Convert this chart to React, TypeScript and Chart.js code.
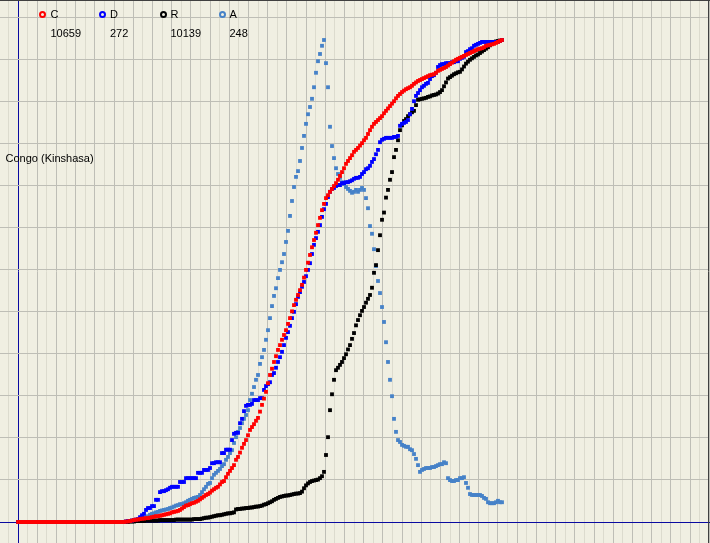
import React, { useEffect, useRef } from "react";
import { Chart, registerables } from "chart.js";

Chart.register(...registerables);

// ---- data (percent of each series' own peak, one value per day from day 0) ----
const COUNTRY = "Congo (Kinshasa)";
const SERIES_NAMES = ["C", "D", "R", "A"];
const LATEST = ["10659", "272", "10139", "248"];
const SERIES_COLORS = ["#ff0000", "#0000ff", "#000000", "#4682c8"];

const C_PCT = [
  0, 0, 0, 0, 0, 0, 0, 0, 0, 0,
  0, 0, 0, 0, 0, 0, 0, 0, 0, 0,
  0, 0, 0, 0, 0, 0, 0, 0, 0, 0,
  0, 0, 0, 0, 0, 0, 0, 0, 0, 0,
  0, 0, 0, 0, 0, 0, 0, 0, 0, 0,
  0, 0, 0, 0, 0.1, 0.1, 0.2, 0.3, 0.4, 0.5,
  0.5, 0.6, 0.7, 0.7, 0.8, 0.8, 0.9, 1.0, 1.1, 1.2,
  1.2, 1.3, 1.4, 1.5, 1.6, 1.7, 1.8, 2.0, 2.1, 2.2,
  2.3, 2.5, 2.8, 3.1, 3.4, 3.5, 3.7, 3.9, 4.0, 4.2,
  4.4, 4.7, 5.0, 5.3, 5.6, 5.8, 6.1, 6.5, 6.8, 7.1,
  7.3, 7.8, 8.3, 8.5, 9.3, 10.0, 10.6, 11.2, 11.8, 12.9,
  13.5, 14.4, 15.4, 16.2, 17.0, 18.0, 19.1, 19.7, 20.3, 21.0,
  21.6, 22.9, 24.3, 25.6, 27.0, 28.8, 30.5, 31.8, 33.2, 34.4,
  35.7, 36.7, 37.8, 38.8, 39.8, 41.1, 42.3, 43.7, 45.0, 46.1,
  47.1, 48.1, 49.2, 50.7, 52.3, 53.8, 55.4, 57.0, 58.5, 60.0,
  61.6, 63.1, 64.7, 66.0, 67.2, 67.8, 68.5, 69.1, 69.7, 70.3,
  71.0, 71.8, 72.6, 73.4, 74.3, 74.9, 75.5, 76.1, 76.8, 77.2,
  77.6, 78.1, 78.6, 79.2, 79.7, 80.5, 81.3, 82.0, 82.6, 83.0,
  83.4, 83.8, 84.2, 84.8, 85.3, 85.8, 86.3, 86.8, 87.3, 87.9,
  88.4, 88.8, 89.2, 89.5, 89.8, 90.0, 90.2, 90.5, 90.9, 91.2,
  91.5, 91.7, 91.9, 92.1, 92.3, 92.5, 92.7, 92.8, 92.9, 93.2,
  93.6, 93.8, 94.0, 94.2, 94.4, 94.7, 95.0, 95.3, 95.6, 95.9,
  96.1, 96.3, 96.5, 96.7, 96.9, 97.1, 97.3, 97.5, 97.7, 97.9,
  98.1, 98.2, 98.3, 98.5, 98.8, 98.9, 99.0, 99.1, 99.2, 99.4,
  99.6, 99.8, 100,
];

const D_PCT = [
  0, 0, 0, 0, 0, 0, 0, 0, 0, 0,
  0, 0, 0, 0, 0, 0, 0, 0, 0, 0,
  0, 0, 0, 0, 0, 0, 0, 0, 0, 0,
  0, 0, 0, 0, 0, 0, 0, 0, 0, 0,
  0, 0, 0, 0, 0, 0, 0, 0, 0, 0,
  0, 0, 0, 0, 0.1, 0.2, 0.2, 0.3, 0.4, 0.5,
  0.6, 1.0, 1.4, 1.7, 2.5, 2.9, 2.9, 3.3, 3.3, 4.6,
  4.6, 6.2, 6.4, 6.4, 6.6, 6.8, 7.1, 7.3, 7.3, 7.3,
  7.3, 8.3, 8.3, 8.3, 9.1, 9.1, 9.1, 9.1, 9.1, 9.1,
  10.2, 10.2, 10.2, 10.8, 10.8, 10.8, 11.2, 12.2, 12.2, 12.4,
  12.4, 12.4, 14.3, 14.3, 15.0, 15.0, 15.0, 17.0, 18.3, 18.5,
  18.5, 20.5, 21.4, 23.0, 24.1, 24.3, 24.3, 24.5, 25.3, 25.3,
  25.3, 25.7, 25.7, 27.4, 28.2, 28.6, 29.0, 30.5, 30.9, 32.0,
  33.2, 34.2, 35.3, 36.7, 38.2, 39.4, 40.7, 42.3, 43.6, 45.2,
  46.7, 47.7, 48.8, 49.8, 51.0, 52.3, 53.7, 55.6, 57.5, 58.9,
  60.2, 61.6, 63.3, 64.9, 66.0, 67.4, 68.5, 69.1, 69.3, 69.7,
  69.9, 69.9, 70.3, 70.3, 70.5, 70.5, 70.7, 70.9, 71.2, 71.4,
  71.4, 71.6, 72.2, 72.6, 73.2, 73.4, 73.9, 74.7, 75.3, 76.3,
  77.2, 78.8, 79.3, 79.5, 79.7, 79.7, 79.7, 79.7, 79.9, 79.9,
  80.1, 82.2, 82.6, 82.8, 83.0, 83.4, 84.6, 85.7, 87.3, 88.4,
  89.0, 89.6, 90.2, 90.5, 90.9, 91.1, 91.9, 92.5, 92.7, 93.2,
  94.4, 94.8, 95.0, 95.0, 95.2, 95.2, 95.2, 95.4, 95.4, 95.6,
  95.6, 96.1, 96.3, 96.5, 97.5, 97.7, 98.1, 98.3, 98.8, 99.0,
  99.2, 99.4, 99.6, 99.6, 99.6, 99.6, 99.6, 99.6, 99.6, 99.6,
  99.6, 99.8, 100,
];

const R_PCT = [
  0, 0, 0, 0, 0, 0, 0, 0, 0, 0,
  0, 0, 0, 0, 0, 0, 0, 0, 0, 0,
  0, 0, 0, 0, 0, 0, 0, 0, 0, 0,
  0, 0, 0, 0, 0, 0, 0, 0, 0, 0,
  0, 0, 0, 0, 0, 0, 0, 0, 0, 0,
  0, 0, 0, 0, 0, 0, 0.1, 0.1, 0.1, 0.2,
  0.2, 0.2, 0.2, 0.2, 0.3, 0.3, 0.3, 0.3, 0.3, 0.3,
  0.3, 0.4, 0.4, 0.4, 0.4, 0.4, 0.4, 0.4, 0.4, 0.5,
  0.5, 0.5, 0.5, 0.5, 0.5, 0.5, 0.5, 0.5, 0.6, 0.6,
  0.6, 0.6, 0.7, 0.8, 0.9, 0.9, 1.0, 1.1, 1.2, 1.3,
  1.4, 1.4, 1.5, 1.6, 1.7, 1.8, 1.8, 1.9, 2.0, 2.6,
  2.7, 2.7, 2.8, 2.8, 2.9, 2.9, 3.0, 3.0, 3.1, 3.2,
  3.2, 3.3, 3.4, 3.6, 3.7, 3.9, 4.1, 4.3, 4.6, 4.8,
  5.0, 5.2, 5.3, 5.4, 5.5, 5.5, 5.6, 5.7, 5.8, 5.9,
  5.9, 6.0, 6.3, 7.0, 7.6, 8.0, 8.3, 8.5, 8.6, 8.7,
  8.8, 9.1, 9.5, 10.4, 13.9, 17.6, 23.2, 26.5, 29.5, 31.5,
  32.0, 32.6, 33.2, 34.0, 34.8, 35.8, 36.7, 38.0, 39.2, 40.8,
  41.9, 42.9, 43.8, 44.6, 45.5, 46.3, 47.1, 48.6, 51.7, 53.3,
  56.4, 59.5, 62.7, 64.2, 67.3, 68.9, 71.0, 72.6, 75.7, 77.2,
  79.2, 81.3, 82.3, 83.2, 83.6, 84.2, 84.6, 85.0, 85.3, 86.5,
  87.6, 87.7, 87.8, 87.9, 88.0, 88.2, 88.3, 88.5, 88.6, 88.7,
  88.9, 89.2, 89.6, 90.4, 91.2, 92.0, 92.3, 92.6, 92.9, 93.1,
  93.3, 93.4, 93.9, 94.5, 95.1, 95.5, 95.9, 96.2, 96.5, 96.8,
  97.0, 97.3, 97.6, 97.9, 98.2, 98.5, 98.9, 99.2, 99.5, 99.7,
  99.8, 99.9, 100,
];

const A_PCT = [
  0, 0, 0, 0, 0, 0, 0, 0, 0, 0,
  0, 0, 0, 0, 0, 0, 0, 0, 0, 0,
  0, 0, 0, 0, 0, 0, 0, 0, 0, 0,
  0, 0, 0, 0, 0, 0, 0, 0, 0, 0,
  0, 0, 0, 0, 0, 0, 0, 0, 0, 0,
  0, 0, 0, 0, 0.1, 0.2, 0.2, 0.3, 0.3, 0.4,
  0.5, 0.5, 0.6, 0.8, 1.0, 1.2, 1.5, 1.7, 1.8, 2.0,
  2.1, 2.3, 2.4, 2.5, 2.6, 2.7, 2.9, 3.0, 3.2, 3.4,
  3.5, 3.7, 3.7, 3.9, 4.1, 4.4, 4.6, 4.8, 5.0, 5.1,
  5.2, 5.6, 6.2, 6.8, 7.3, 7.9, 8.1, 9.1, 9.8, 10.2,
  10.6, 11.0, 11.6, 12.0, 12.9, 13.5, 14.3, 14.9, 16.4, 17.6,
  18.7, 19.5, 20.5, 21.4, 22.2, 23.2, 25.3, 26.6, 28.0, 29.5,
  30.5, 32.8, 34.2, 35.7, 37.8, 39.8, 42.3, 44.8, 46.9, 48.5,
  50.6, 52.3, 53.9, 55.6, 58.1, 60.4, 63.5, 66.6, 69.5, 71.6,
  72.8, 74.9, 77.6, 80.1, 82.6, 84.6, 86.1, 87.8, 90.2, 93.2,
  95.6, 97.1, 98.8, 100, 95.2, 90.2, 82.0, 78.0, 75.5, 73.4,
  72.2, 71.4, 70.5, 70.1, 69.5, 69.1, 68.7, 68.3, 68.5, 68.9,
  68.5, 68.9, 69.3, 68.9, 67.2, 65.1, 61.4, 59.8, 56.6, 53.1,
  50.0, 47.5, 44.6, 41.5, 37.3, 33.2, 29.5, 26.1, 21.4, 18.7,
  17.0, 16.6, 16.0, 15.8, 15.6, 15.6, 15.1, 14.9, 14.1, 13.1,
  11.8, 10.4, 10.8, 11.0, 11.2, 11.2, 11.2, 11.4, 11.4, 11.6,
  11.8, 12.0, 12.0, 12.4, 12.2, 9.1, 8.7, 8.5, 8.5, 8.7,
  8.7, 9.1, 9.1, 9.3, 8.1, 7.1, 5.8, 5.6, 5.6, 5.6,
  5.6, 5.6, 5.4, 5.0, 4.8, 4.1, 3.9, 3.9, 3.9, 4.1,
  4.4, 4.1, 4.1,
];

const SERIES_VALUES = [C_PCT, D_PCT, R_PCT, A_PCT];

// ---- axis ranges / grid spacing (in data units) ----
const X_MIN = -9;
const X_MAX = 346;
const X_GRID = 4.8;
const Y_MIN = -4.3568;
const Y_MAX = 108.2988;
const Y_GRID = 8.73;

const BG = "#f0efe2";
const GRID_DARK = "#bebeb6";
const GRID_LIGHT = "#dcdbce";
const AXIS_BLUE = "#0a0aa0";

const FONT = '11px "Liberation Sans", Arial, sans-serif';

const bgPlugin = {
  id: "bgPlugin",
  beforeDraw(chart: any) {
    const { ctx, width, height } = chart;
    ctx.save();
    ctx.fillStyle = BG;
    ctx.fillRect(0, 0, width, height);
    ctx.restore();
  },
  afterDraw(chart: any) {
    const { ctx, width } = chart;
    ctx.save();
    ctx.strokeStyle = "#404040";
    ctx.lineWidth = 1;
    ctx.beginPath();
    ctx.moveTo(0, 0.5);
    ctx.lineTo(width, 0.5);
    ctx.moveTo(width - 1.5, 0);
    ctx.lineTo(width - 1.5, chart.height);
    ctx.stroke();
    ctx.restore();
  },
};

function buildTicks(min: number, max: number, step: number) {
  const out: { value: number }[] = [];
  const k0 = Math.ceil(min / step);
  const k1 = Math.floor(max / step);
  for (let k = k0; k <= k1; k++) out.push({ value: k * step });
  return out;
}

export default function App() {
  const ref = useRef<HTMLCanvasElement | null>(null);

  useEffect(() => {
    if (!ref.current) return;
    const datasets = SERIES_VALUES.map((vals, i) => ({
      label: SERIES_NAMES[i],
      data: vals.map((v, d) => ({ x: d, y: v })),
      showLine: false,
      pointStyle: "rect",
      pointRadius: 2.7,
      pointBorderWidth: 0,
      pointBackgroundColor: SERIES_COLORS[i],
      backgroundColor: SERIES_COLORS[i],
      borderColor: SERIES_COLORS[i],
      clip: false,
    }));

    const chart = new Chart(ref.current, {
      type: "scatter",
      data: { datasets } as any,
      options: {
        responsive: false,
        animation: false,
        events: [],
        layout: { padding: 0, autoPadding: false },
        plugins: {
          legend: { display: false },
          tooltip: { enabled: false },
          title: { display: false },
        },
        scales: {
          x: {
            type: "linear",
            min: X_MIN,
            max: X_MAX,
            ticks: { display: false },
            border: { display: false },
            grid: {
              drawTicks: false,
              tickLength: 0,
              color: (ctx: any) => {
                const v = ctx.tick ? ctx.tick.value : 1;
                const k = Math.round(v / X_GRID);
                if (k === 0) return AXIS_BLUE;
                return k % 2 === 0 ? GRID_DARK : GRID_LIGHT;
              },
              lineWidth: 1,
            },
            afterBuildTicks: (scale: any) => {
              scale.ticks = buildTicks(X_MIN, X_MAX, X_GRID);
            },
          },
          y: {
            type: "linear",
            min: Y_MIN,
            max: Y_MAX,
            ticks: { display: false },
            border: { display: false },
            grid: {
              drawTicks: false,
              tickLength: 0,
              color: (ctx: any) => {
                const v = ctx.tick ? ctx.tick.value : 1;
                return Math.round(v / Y_GRID) === 0 ? AXIS_BLUE : GRID_DARK;
              },
              lineWidth: 1,
            },
            afterBuildTicks: (scale: any) => {
              scale.ticks = buildTicks(Y_MIN, Y_MAX, Y_GRID);
            },
          },
        },
      } as any,
      plugins: [bgPlugin],
    });
    return () => chart.destroy();
  }, []);

  const legendPos = [
    { ring: 42.5, text: 50.5 },
    { ring: 102.5, text: 110 },
    { ring: 163, text: 170.5 },
    { ring: 222, text: 229.5 },
  ];

  const textStyle: React.CSSProperties = {
    position: "absolute",
    font: FONT,
    lineHeight: "13px",
    color: "#000",
    whiteSpace: "nowrap",
  };

  return (
    <div
      style={{
        position: "fixed",
        left: 0,
        top: 0,
        width: 710,
        height: 543,
        overflow: "hidden",
        background: BG,
      }}
    >
      <canvas ref={ref} width={710} height={543} style={{ display: "block", width: 710, height: 543 }} />
      {SERIES_NAMES.map((name, i) => (
        <React.Fragment key={name}>
          <span
            style={{
              position: "absolute",
              left: legendPos[i].ring - 3.5,
              top: 11,
              width: 3,
              height: 3,
              border: `2px solid ${SERIES_COLORS[i]}`,
              borderRadius: "50%",
              background: BG,
            }}
          />
          <span style={{ ...textStyle, left: legendPos[i].text, top: 8 }}>{name}</span>
          <span style={{ ...textStyle, left: legendPos[i].text, top: 26.5 }}>{LATEST[i]}</span>
        </React.Fragment>
      ))}
      <span style={{ ...textStyle, left: 5.5, top: 151.5 }}>{COUNTRY}</span>
    </div>
  );
}
